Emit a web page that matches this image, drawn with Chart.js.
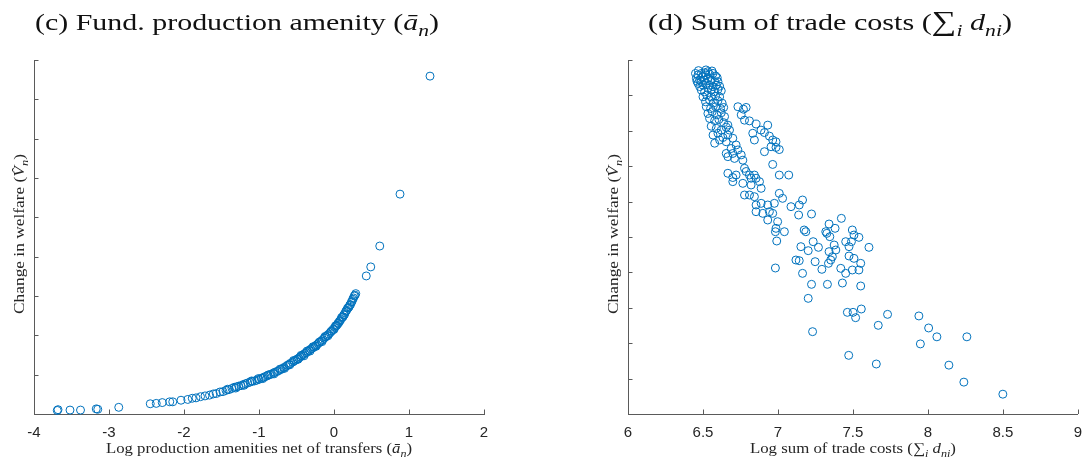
<!DOCTYPE html>
<html><head><meta charset="utf-8">
<script src="https://cdn.jsdelivr.net/npm/chart.js@4.4.1/dist/chart.umd.min.js"></script>
<style>
html,body{margin:0;padding:0;background:#fff;width:1084px;height:459px;overflow:hidden}
canvas{position:absolute;top:0}
#c1{left:0px}
#c2{left:542px}
</style></head><body>
<canvas id="c1" width="542" height="459" style="width:542px;height:459px"></canvas>
<canvas id="c2" width="542" height="459" style="width:542px;height:459px"></canvas>
<script>
// ---------- data ----------
const amenityTicks = [-4, -3, -2, -1, 0, 1, 2];
const amenityWelfareTicks = [0, 1, 2, 3, 4, 5, 6, 7, 8, 9];
const tradeTicks = [6, 6.5, 7, 7.5, 8, 8.5, 9];
const tradeWelfareTicks = [0, 1, 2, 3, 4, 5, 6, 7, 8, 9, 10];

// panel (c): [log amenity, change in welfare]
const amenityTail = [[-3.69,0.09],[-3.68,0.11],[-3.52,0.10],[-3.38,0.10],[-3.17,0.13],[-3.15,0.12],[-2.87,0.17]];
const amenityCurve = [
[-2.45,0.26],[-2.37,0.27],[-2.29,0.29],[-2.19,0.31],[-2.15,0.31],[-2.04,0.35],[-1.95,0.37],[-1.89,0.40],
[-1.84,0.41],[-1.78,0.44],[-1.72,0.46],[-1.66,0.48],[-1.61,0.51],[-1.57,0.52],[-1.52,0.56],[-1.48,0.57],
[-1.44,0.60],[-1.40,0.62],[-1.36,0.65],[-1.33,0.68],[-1.30,0.69],[-1.27,0.71],[-1.24,0.72],[-1.21,0.75],
[-1.18,0.77],[-1.15,0.79],[-1.12,0.81],[-1.09,0.83],[-1.06,0.84],[-1.03,0.86],[-1.00,0.88],[-0.97,0.91],
[-0.94,0.93],[-0.92,0.95],[-0.89,0.97],[-0.86,1.00],[-0.84,1.01],[-0.81,1.04],[-0.79,1.06],[-0.76,1.08],
[-0.74,1.10],[-0.71,1.13],[-0.69,1.15],[-0.67,1.18],[-0.64,1.21],[-0.62,1.24],[-0.60,1.26],[-0.58,1.29],
[-0.55,1.32],[-0.53,1.35],[-0.51,1.37],[-0.49,1.40],[-0.47,1.42],[-0.45,1.45],[-0.43,1.48],[-0.41,1.51],
[-0.39,1.54],[-0.37,1.56],[-0.35,1.59],[-0.33,1.62],[-0.31,1.65],[-0.29,1.67],[-0.27,1.70],[-0.25,1.73],
[-0.23,1.76],[-0.21,1.79],[-0.19,1.83],[-0.17,1.86],[-0.15,1.89],[-0.13,1.93],[-0.11,1.96],[-0.09,2.00],
[-0.07,2.03],[-0.05,2.07],[-0.03,2.11],[-0.01,2.16],[0.01,2.20],[0.03,2.25],[0.05,2.30],[0.07,2.35],
[0.09,2.40],[0.11,2.46],[0.13,2.52],[0.15,2.58],[0.17,2.64],[0.19,2.70],[0.21,2.77],[0.23,2.84],
[0.25,2.92],[0.27,3.00],[0.29,3.06],
[-1.42,0.63],[-1.31,0.66],[-1.20,0.73],[-1.10,0.84],[-1.01,0.90],[-0.95,0.90],[-0.88,0.99],[-0.80,1.02],
[-0.72,1.14],[-0.66,1.16],[-0.59,1.25],[-0.54,1.36],[-0.48,1.39],[-0.44,1.49],[-0.40,1.48],[-0.36,1.60],
[-0.32,1.60],[-0.28,1.71],[-0.24,1.72],[-0.20,1.82],[-0.16,1.84],[-0.12,1.97],[-0.08,1.99],[-0.04,2.10],
[0.00,2.15],[0.02,2.24],[0.06,2.31],[0.10,2.45],[0.14,2.53],[0.18,2.69],[0.22,2.78],[0.26,2.95],
[0.28,3.02],[0.24,2.86],[0.20,2.72],[0.16,2.62],[0.12,2.47],[0.08,2.37],[0.04,2.26]];
const amenityUpper = [[0.43,3.51],[0.49,3.74],[0.61,4.27],[0.88,5.59],[1.28,8.59]];

// panel (d): [log sum of trade costs, change in welfare]
const tradeClusterTop = [
[6.456,9.48],[6.467,9.58],[6.478,9.43],[6.489,9.62],[6.50,9.53],[6.511,9.64],[6.522,9.58],[6.533,9.67],
[6.544,9.60],[6.567,9.62],[6.584,9.55],[6.467,9.34],[6.489,9.39],[6.511,9.43],[6.533,9.48],[6.555,9.43],
[6.578,9.39],[6.60,9.39],[6.478,9.25],[6.50,9.29],[6.522,9.34],[6.544,9.29],[6.567,9.25],[6.589,9.29],
[6.611,9.26],[6.489,9.15],[6.511,9.10],[6.533,9.20],[6.555,9.15],[6.578,9.10],[6.60,9.17],[6.622,9.13],
[6.50,8.96],[6.525,9.01],[6.555,8.96],[6.584,8.98],[6.611,8.96],[6.45,9.62],[6.47,9.70],[6.52,9.72],
[6.56,9.69],[6.595,9.50],[6.46,9.40]];
const tradeBandLeft = [
[6.517,8.82],[6.544,8.87],[6.571,8.79],[6.60,8.85],[6.628,8.78],[6.522,8.68],[6.551,8.63],[6.584,8.68],
[6.617,8.63],[6.638,8.66],[6.533,8.49],[6.562,8.54],[6.593,8.45],[6.622,8.51],[6.644,8.40],[6.544,8.35],
[6.578,8.29],[6.606,8.32],[6.638,8.23],[6.666,8.16],[6.555,8.13],[6.589,8.07],[6.622,8.02],[6.655,8.10],
[6.677,8.02],[6.567,7.88],[6.60,7.93],[6.633,7.81],[6.666,7.88],[6.578,7.65],[6.611,7.74],[6.655,7.69],
[6.699,7.79],[6.721,7.60],[6.688,7.50],[6.655,7.36],[6.699,7.36],[6.733,7.46],[6.666,7.27],[6.71,7.22],
[6.755,7.32],[6.766,7.17],[6.666,6.80],[6.699,6.68],[6.721,6.75],[6.777,6.94],[6.788,6.85],[6.81,6.75],
[6.821,6.66],[6.854,6.66],[6.843,6.75],
[6.699,6.563],[6.766,6.516],[6.821,6.469],[6.877,6.563],[6.888,6.375],[6.777,6.186],[6.810,6.186],
[6.843,6.139],[6.854,5.904],[6.888,5.951],[6.932,5.904],[6.976,5.951],[6.854,5.715],[6.899,5.668],
[6.943,5.715],[6.965,5.668],[6.932,5.480],[6.998,5.433],[6.987,5.245],[6.983,5.150],[7.043,5.150],
[6.992,4.887],[6.983,4.124]];
const tradeBandRight = [
[6.733,8.68],[6.770,8.61],[6.788,8.66],[6.755,8.45],[6.777,8.30],[6.81,8.28],[6.854,8.19],[6.932,8.16],
[6.832,7.93],[6.843,7.74],[6.887,8.02],[6.91,7.95],[6.943,7.85],[6.965,7.74],[6.987,7.69],[6.954,7.55],
[6.987,7.53],[7.009,7.47],[6.91,7.41],[6.965,7.05],[7.009,6.75],[7.072,6.75],
[7.009,6.233],[7.031,6.092],[7.087,5.857],[7.142,5.904],[7.164,6.045],[7.138,5.621],[7.224,5.650],
[7.175,5.198],[7.186,5.150],[7.235,4.868],[7.153,4.727],[7.202,4.614],[7.270,4.708],[7.120,4.350],
[7.142,4.331],[7.248,4.303],[7.164,3.973],[7.293,4.087],[7.326,5.103],[7.341,5.367],[7.381,5.245],
[7.319,5.150],[7.346,5.009],[7.423,5.527],[7.496,5.198],[7.507,5.056],[7.540,4.990],[7.452,4.868],
[7.474,4.727],[7.490,4.868],[7.375,4.774],[7.341,4.586],[7.386,4.633],[7.363,4.444],[7.352,4.350],
[7.337,4.256],[7.507,4.397],[7.474,4.463],[7.552,4.256],[7.607,4.708],[7.419,4.115],[7.452,3.973],
[7.496,4.068],[7.540,4.068],[7.224,3.663],[7.330,3.663],[7.430,3.700],[7.552,3.616],[7.202,3.267]];
const tradeLower = [
[7.463,2.872],[7.501,2.872],[7.518,2.721],[7.556,2.966],[7.731,2.815],[7.669,2.505],[7.231,2.326],
[7.472,1.657],[7.656,1.412],[7.94,2.77],[8.005,2.43],[8.06,2.18],[7.95,1.98],[8.26,2.18],[8.14,1.38],
[8.24,0.90],[8.50,0.56]];

// ---------- styling ----------
const MARKER = '#0072BD';
const AXIS = '#5a5a5a';
const TEXT = '#262626';
const SERIF = '"Liberation Serif", "DejaVu Serif", serif';
const SANS = '"Liberation Sans", Arial, sans-serif';

function toPts(arr){ return arr.map(p => ({x: p[0], y: p[1]})); }

// draws mixed roman/italic/subscript text centred at (x,y); widthTarget stretches it horizontally
function drawRich(ctx, segs, x, y, size, color, rotate, widthTarget){
  const parts = segs.map(s => {
    const sz = s.sub ? size * 0.72 : (s.big ? size * 1.15 : size);
    const font = (s.it ? 'italic ' : '') + sz + 'px ' + SERIF;
    ctx.font = font;
    return {t: s.t, font, w: ctx.measureText(s.t).width, dy: s.sub ? size * 0.24 : 0};
  });
  const total = parts.reduce((a, p) => a + p.w, 0);
  const sx = widthTarget ? widthTarget / total : 1;
  ctx.save();
  ctx.translate(x, y);
  if (rotate) ctx.rotate(rotate);
  ctx.scale(sx, 1);
  ctx.fillStyle = color;
  ctx.textBaseline = 'alphabetic';
  ctx.textAlign = 'left';
  let cx = -total / 2;
  parts.forEach(p => { ctx.font = p.font; ctx.fillText(p.t, cx, p.dy); cx += p.w; });
  ctx.restore();
}

const inwardTicks = {
  id: 'inwardTicks',
  afterDraw(chart, args, o) {
    const {ctx, chartArea: a, scales: {x, y}} = chart;
    const L = 4.5;
    ctx.save();
    ctx.strokeStyle = AXIS;
    ctx.lineWidth = 1;
    ctx.beginPath();
    x.ticks.forEach(t => {
      const px = Math.round(x.getPixelForValue(t.value)) + 0.5;
      ctx.moveTo(px, a.bottom); ctx.lineTo(px, a.bottom - L);
    });
    y.ticks.forEach(t => {
      const py = Math.round(y.getPixelForValue(t.value)) + 0.5;
      ctx.moveTo(a.left, py); ctx.lineTo(a.left + L, py);
    });
    ctx.stroke();
    const cxa = (a.left + a.right) / 2, cya = (a.top + a.bottom) / 2;
    drawRich(ctx, o.title, o.titleX, 30, 24, '#111', 0, o.titleW);
    drawRich(ctx, o.xTitle, cxa, 453, 15, TEXT, 0, o.xTitleW);
    drawRich(ctx, o.yTitle, a.left - 10, cya - 3, 15, TEXT, -Math.PI / 2, 160);
    ctx.restore();
  }
};

function makeChart(id, datasets, xTicks, yTicks, padRight, yWidth, extra) {
  return new Chart(document.getElementById(id), {
    type: 'scatter',
    data: {datasets: [{
      data: datasets,
      pointStyle: 'circle',
      pointRadius: 4,
      pointHoverRadius: 4,
      borderWidth: 1,
      borderColor: MARKER,
      backgroundColor: 'rgba(0,0,0,0)',
      clip: false
    }]},
    options: {
      responsive: false,
      animation: false,
      events: [],
      layout: {padding: {left: 0, right: padRight, top: 60, bottom: 0}},
      plugins: {legend: {display: false}, tooltip: {enabled: false}, title: {display: false}, inwardTicks: extra},
      scales: {
        x: {
          type: 'linear',
          min: xTicks[0], max: xTicks[xTicks.length - 1],
          afterBuildTicks: s => { s.ticks = xTicks.map(v => ({value: v})); },
          ticks: {color: TEXT, font: {family: SANS, size: 15}, padding: 2, maxRotation: 0, autoSkip: false,
                  callback: v => String(v)},
          grid: {display: false},
          border: {display: true, color: AXIS, width: 1},
          afterFit: s => { s.height = 459 - 414; }
        },
        y: {
          type: 'linear',
          min: yTicks[0], max: yTicks[yTicks.length - 1],
          afterBuildTicks: s => { s.ticks = yTicks.map(v => ({value: v})); },
          ticks: {display: false},
          grid: {display: false},
          border: {display: true, color: AXIS, width: 1},
          afterFit: s => { s.width = yWidth; }
        }
      }
    },
    plugins: [inwardTicks]
  });
}

makeChart('c1',
  toPts(amenityTail.concat(amenityCurve, amenityUpper)),
  amenityTicks, amenityWelfareTicks, 542 - 484, 34,
  {
    titleX: 237, titleW: 404, xTitleW: 306,
    title: [{t: '(c) Fund. production amenity ('}, {t: 'ā', it: true}, {t: 'n', it: true, sub: true}, {t: ')'}],
    xTitle: [{t: 'Log production amenities net of transfers ('}, {t: 'ā', it: true}, {t: 'n', it: true, sub: true}, {t: ')'}],
    yTitle: [{t: 'Change in welfare ('}, {t: 'V̂', it: true}, {t: 'n', it: true, sub: true}, {t: ')'}]
  });

makeChart('c2',
  toPts(tradeClusterTop.concat(tradeBandLeft, tradeBandRight, tradeLower)),
  tradeTicks, tradeWelfareTicks, 542 - (1079 - 542), 628 - 542,
  {
    titleX: 830 - 542, titleW: 364, xTitleW: 206,
    title: [{t: '(d) Sum of trade costs ('}, {t: '∑', big: true}, {t: 'i', it: true, sub: true}, {t: ' '}, {t: 'd', it: true}, {t: 'ni', it: true, sub: true}, {t: ')'}],
    xTitle: [{t: 'Log sum of trade costs ('}, {t: '∑'}, {t: 'i', it: true, sub: true}, {t: ' '}, {t: 'd', it: true}, {t: 'ni', it: true, sub: true}, {t: ')'}],
    yTitle: [{t: 'Change in welfare ('}, {t: 'V̂', it: true}, {t: 'n', it: true, sub: true}, {t: ')'}]
  });
</script>
</body></html>
